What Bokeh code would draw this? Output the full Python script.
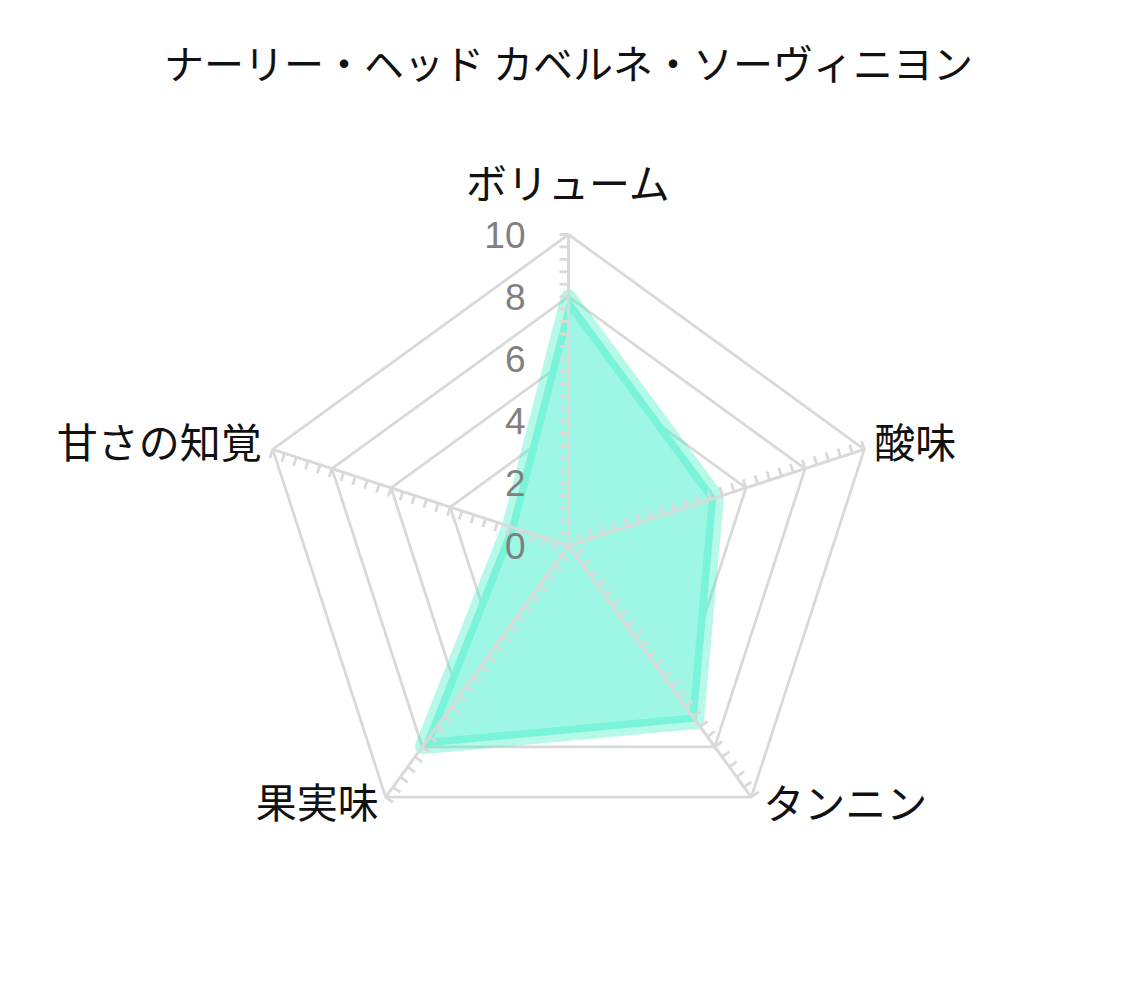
import numpy as np
from bokeh.plotting import figure
from bokeh.models import Range1d, Label, ColumnDataSource
from bokeh.core.properties import value
from bokeh.embed import file_html
from bokeh.resources import INLINE

# ---------------- data ----------------
title_text = "ナーリー・ヘッド カベルネ・ソーヴィニヨン"
categories = ["ボリューム", "酸味", "タンニン", "果実味", "甘さの知覚"]
values = [8, 5, 7, 8, 2]
grid_levels = [2, 4, 6, 8, 10]
tick_values = [0, 2, 4, 6, 8, 10]
tick_labels = ["0", "2", "4", "6", "8", "10"]
max_value = 10
minor_step = 0.4

# ---------------- geometry / style ----------------
PX = 31.1              # pixels per value unit
W, H = 1115, 974
CX, CY = 568, 545      # centre of the radar inside the figure (px)
JP = "Noto Sans CJK JP"
GRID = "#d9d9d9"

n = len(categories)
theta = np.deg2rad(90 - 72 * np.arange(n))
ux, uy = np.cos(theta), np.sin(theta)

p = figure(width=W, height=H,
           x_range=Range1d(-CX / PX, (W - CX) / PX),
           y_range=Range1d(-(H - CY) / PX, CY / PX),
           min_border=0, toolbar_location=None, output_backend="svg")
p.axis.visible = False
p.grid.visible = False
p.outline_line_color = None
p.background_fill_color = "white"
p.border_fill_color = "white"

# pentagon grid
gx = [list(np.append(lv * ux, lv * ux[0])) for lv in grid_levels]
gy = [list(np.append(lv * uy, lv * uy[0])) for lv in grid_levels]
p.multi_line(gx, gy, line_color=GRID, line_width=2.8)

# data polygon: fill + translucent wide stroke
vals = np.array(values, dtype=float)
px_ = vals * ux
py_ = vals * uy
p.patch(px_, py_, fill_color="#9ef7e5", fill_alpha=1.0, line_color=None)
p.patch(px_, py_, fill_alpha=0, line_color="#3ff0c6", line_alpha=0.38,
        line_width=15, line_join="round")

# radial axes
p.segment(x0=[0] * n, y0=[0] * n, x1=list(max_value * ux), y1=list(max_value * uy),
          line_color=GRID, line_width=3)

# minor ticks on every axis (counter-clockwise side)
tl = 9 / PX
steps = np.arange(minor_step, max_value + 1e-6, minor_step)
tx0, ty0, tx1, ty1 = [], [], [], []
for i in range(n):
    nx, ny = np.cos(theta[i] + np.pi / 2), np.sin(theta[i] + np.pi / 2)
    for s in steps:
        x0, y0 = s * ux[i], s * uy[i]
        tx0.append(x0); ty0.append(y0)
        tx1.append(x0 + tl * nx); ty1.append(y0 + tl * ny)
p.segment(x0=tx0, y0=ty0, x1=tx1, y1=ty1, line_color=GRID, line_width=2.8)

# radial tick labels
src = ColumnDataSource(dict(x=[-43 / PX] * len(tick_values), y=tick_values, t=tick_labels))
p.text(x="x", y="y", text="t", source=src, text_align="right", text_baseline="middle",
       text_font=value("Liberation Sans"), text_font_size="37px", text_color="#808080")

# category labels
offsets = [  # (dx px, dy px, align)
    (0, 54, "center"),
    (10, 9, "left"),
    (12, -4, "left"),
    (-7, -3, "right"),
    (-11, 9, "right"),
]
for i, cat in enumerate(categories):
    dx, dy, al = offsets[i]
    p.add_layout(Label(x=max_value * ux[i] + dx / PX, y=max_value * uy[i] + dy / PX,
                       text=cat, text_align=al, text_baseline="middle",
                       text_font=JP, text_font_size="41px", text_color="#111111"))

# title
p.add_layout(Label(x=0, y=(CY - 61) / PX, text=title_text, text_align="center",
                   text_baseline="middle", text_font=JP, text_font_size="40px",
                   text_color="#111111"))

open("out.html", "w").write(file_html(p, INLINE))
